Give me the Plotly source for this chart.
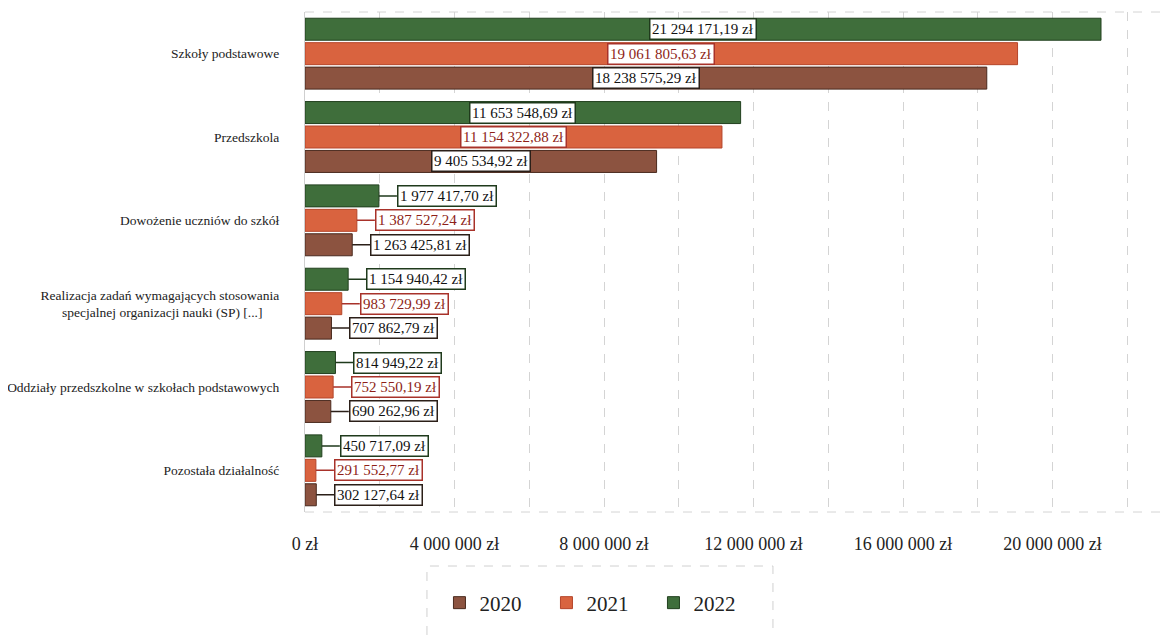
import plotly.graph_objects as go

categories = [
    "Szkoły podstawowe",
    "Przedszkola",
    "Dowożenie uczniów do szkół",
    "Realizacja zadań wymagających stosowania<br>specjalnej organizacji nauki (SP) [...]\u00a0\u00a0\u00a0\u00a0\u00a0",
    "Oddziały przedszkolne w szkołach podstawowych",
    "Pozostała działalność",
]
years = ["2020", "2021", "2022"]
values_2020 = [18238575.29, 9405534.92, 1263425.81, 707862.79, 690262.96, 302127.64]
values_2021 = [19061805.63, 11154322.88, 1387527.24, 983729.99, 752550.19, 291552.77]
values_2022 = [21294171.19, 11653548.69, 1977417.70, 1154940.42, 814949.22, 450717.09]

series = {"2020": values_2020, "2021": values_2021, "2022": values_2022}
fill_colors = {"2020": "#8C5340", "2021": "#D9633F", "2022": "#3F6E3B"}
edge_colors = {"2020": "#4A2A1E", "2021": "#B5452A", "2022": "#22401F"}
label_border = {"2020": "#2B1F18", "2021": "#A8322A", "2022": "#1F3A1C"}
label_text = {"2020": "#111111", "2021": "#8E1F18", "2022": "#111111"}

INSIDE_MIN = 5_000_000
SERIF = "Liberation Serif, Times New Roman, serif"


def fmt_pln(v):
    s = f"{v:,.2f}"
    whole, dec = s.split(".")
    return whole.replace(",", " ") + "," + dec + " zł"


fig = go.Figure()
for y in years:
    fig.add_trace(go.Bar(
        name=y,
        y=categories,
        x=series[y],
        orientation="h",
        marker=dict(color=fill_colors[y], line=dict(color=edge_colors[y], width=1)),
        hoverinfo="skip",
    ))

fig.update_layout(
    barmode="group",
    bargap=0.12,
    bargroupgap=0.1,
    width=1162,
    height=628,
    margin=dict(l=297, r=0, t=4, b=124, autoexpand=False),
    paper_bgcolor="white",
    plot_bgcolor="white",
    font=dict(family=SERIF, color="#222222"),
    separators=", ",
    showlegend=True,
    legend=dict(
        orientation="h",
        x=0.341, xanchor="center",
        y=-0.141, yanchor="top",
        font=dict(size=21, family=SERIF, color="#222222"),
        borderwidth=0,
        bgcolor="rgba(0,0,0,0)",
        entrywidth=62,
        entrywidthmode="pixels",
        tracegroupgap=0,
    ),
    xaxis=dict(
        range=[0, 23.14e6],
        dtick=4e6,
        tick0=0,
        tickformat=",d",
        ticksuffix=" zł",
        tickfont=dict(size=18, family=SERIF, color="#222222"),
        showgrid=True,
        gridcolor="#D4D4D4",
        griddash="dash",
        gridwidth=1,
        minor=dict(dtick=2e6, showgrid=True, gridcolor="#D4D4D4", griddash="dash"),
        zeroline=False,
        showline=False,
        ticks="",
        ticklabelstandoff=19,
        automargin=False,
        fixedrange=True,
    ),
    yaxis=dict(
        categoryorder="array",
        categoryarray=categories[::-1],
        tickfont=dict(size=13.5, family=SERIF, color="#222222"),
        showline=True,
        linecolor="#CFCFCF",
        linewidth=1,
        ticks="",
        ticklabelstandoff=22,
        showgrid=False,
        automargin=False,
        fixedrange=True,
    ),
)

# top and bottom dashed border of plot area
fig.add_shape(type="line", xref="paper", yref="paper", x0=0, x1=1, y0=1, y1=1,
              line=dict(color="#D4D4D4", width=1, dash="dash"))
fig.add_shape(type="line", xref="paper", yref="paper", x0=0, x1=1, y0=0, y1=0,
              line=dict(color="#D4D4D4", width=1, dash="dash"))
# legend frame
fig.add_shape(type="rect", xref="paper", yref="paper", x0=0.141, x1=0.541, y0=-0.26, y1=-0.108,
              line=dict(color="#D0D0D0", width=1, dash="dash"), fillcolor="rgba(0,0,0,0)",
              layer="below")

offsets = {"2020": -1, "2021": 0, "2022": 1}
slot = (1 - 0.12) / 3
for y in years:
    for cat, v in zip(categories, series[y]):
        common = dict(
            yref="y", xref="x",
            text=fmt_pln(v),
            font=dict(size=15, family=SERIF, color=label_text[y]),
            bgcolor="white",
            bordercolor=label_border[y],
            borderwidth=1.5,
            borderpad=1.5,
        )
        idx = categories[::-1].index(cat)
        ypos = idx + offsets[y] * slot
        if v >= INSIDE_MIN:
            fig.add_annotation(x=v / 2, y=ypos, showarrow=False,
                               xanchor="center", yanchor="middle", **common)
        else:
            fig.add_annotation(x=v, y=ypos, showarrow=True, ax=18, ay=0,
                               axref="pixel", ayref="pixel",
                               arrowhead=0, arrowwidth=1.5,
                               arrowcolor=label_border[y],
                               xanchor="left", yanchor="middle", **common)

fig.write_html("out.html")
